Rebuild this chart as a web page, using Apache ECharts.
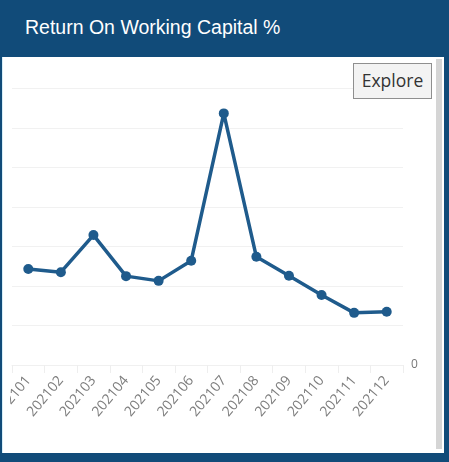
<!DOCTYPE html>
<html>
<head>
<meta charset="utf-8">
<script src="https://cdn.jsdelivr.net/npm/echarts@6/dist/echarts.min.js"></script>
<style>
  html, body { margin: 0; padding: 0; width: 449px; height: 462px; overflow: hidden; background: #114b79; }
  #header { position: absolute; left: 0; top: 0; width: 449px; height: 57px; background: #114b79; }
  #title { position: absolute; left: 25px; top: 16px; color: #ffffff; font-family: "Liberation Sans", Arial, sans-serif; font-size: 19.5px; }
  #panel { position: absolute; left: 2px; top: 57px; width: 441px; height: 396px; background: #ffffff; border-left: 1px solid #d6eef8; }
  #scroll { position: absolute; left: 436px; top: 59px; width: 6px; height: 390px; background: #d5d5d5; }
  #chart { position: absolute; left: 10px; top: 57px; width: 426px; height: 396px; }
  #explore { position: absolute; left: 353px; top: 63px; width: 79px; height: 36px; box-sizing: border-box; background: #f3f3f3; border: 1px solid #8f8f8f; color: #333; font-family: "Open Sans", "Noto Sans", sans-serif; font-size: 17.5px; line-height: 33px; text-align: center; }
</style>
</head>
<body>
<div id="header"><div id="title">Return On Working Capital %</div></div>
<div id="panel"></div>
<div id="chart"></div>
<div id="scroll"></div>
<div id="explore">Explore</div>
<script>
const categories = ['202101','202102','202103','202104','202105','202106','202107','202108','202109','202110','202111','202112'];
const values = [24.3, 23.5, 32.9, 22.5, 21.3, 26.4, 63.7, 27.4, 22.6, 17.7, 13.2, 13.5];

const chart = echarts.init(document.getElementById('chart'));
chart.setOption({
  animation: false,
  grid: { left: 2, right: 33, top: 31.5, bottom: 88, containLabel: false, outerBoundsMode: 'none' },
  xAxis: {
    type: 'category',
    data: categories,
    boundaryGap: true,
    axisLine: { show: true, lineStyle: { color: '#f0f0f0' } },
    axisTick: { show: true, length: 8, lineStyle: { color: '#eeeeee' } },
    axisLabel: { rotate: 50, color: '#7d7d7d', fontSize: 14, margin: 13, fontFamily: 'Open Sans, sans-serif', interval: 0, hideOverlap: false }
  },
  yAxis: {
    type: 'value',
    position: 'right',
    min: 0, max: 70, interval: 10,
    axisLine: { show: false },
    axisTick: { show: false },
    splitLine: { lineStyle: { color: '#f1f1f1', width: 1 } },
    axisLabel: { color: '#777', fontSize: 12, margin: 8, fontFamily: 'Open Sans, sans-serif',
      formatter: function (v) { return v === 0 ? '0' : ''; } }
  },
  series: [{
    type: 'line',
    data: values,
    symbol: 'circle',
    symbolSize: 10,
    lineStyle: { color: '#1f5b8c', width: 3.5 },
    itemStyle: { color: '#1f5b8c' }
  }]
});
</script>
</body>
</html>
